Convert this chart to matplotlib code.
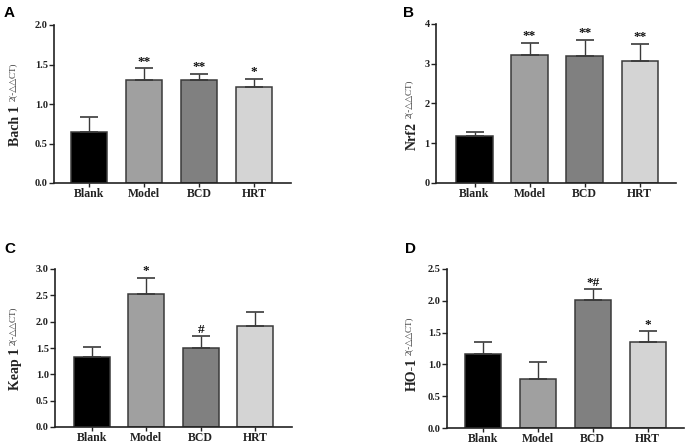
import matplotlib
matplotlib.use("Agg")
import matplotlib.pyplot as plt
from matplotlib.ticker import FormatStrFormatter, MultipleLocator

categories = ["Blank", "Model", "BCD", "HRT"]
colors = ["#000000", "#a0a0a0", "#808080", "#d4d4d4"]

a_vals = [0.65, 1.31, 1.30, 1.22]
a_err = [0.18, 0.14, 0.08, 0.10]
a_sig = ["", "**", "**", "*"]

b_vals = [1.17, 3.22, 3.20, 3.08]
b_err = [0.11, 0.31, 0.40, 0.42]
b_sig = ["", "**", "**", "**"]

c_vals = [1.33, 2.52, 1.50, 1.92]
c_err = [0.19, 0.31, 0.22, 0.27]
c_sig = ["", "*", "#", ""]

d_vals = [1.17, 0.77, 2.02, 1.36]
d_err = [0.18, 0.26, 0.16, 0.16]
d_sig = ["", "", "*#", "*"]

W, H = 687, 446
fig = plt.figure(figsize=(W / 100, H / 100), dpi=100)

serif = ["Liberation Serif", "DejaVu Serif"]
edge = "#3a3a3a"

panels = [
    ("A", a_vals, a_err, a_sig, "Bach 1", 2.0, 0.5, "%.1f", (54, 291, 25, 183), (-0.636, 3.67),
     (4, 17), (16, 105), (13, 101)),
    ("B", b_vals, b_err, b_sig, "Nrf2", 4.0, 1.0, "%d", (436, 676, 24, 183), (-0.70, 3.66),
     (403, 17), (412, 122), (409, 118)),
    ("C", c_vals, c_err, c_sig, "Keap 1", 3.0, 0.5, "%.1f", (55, 292, 269, 427), (-0.67, 3.67),
     (4, 253), (16, 348), (13, 345)),
    ("D", d_vals, d_err, d_sig, "HO-1", 2.5, 0.5, "%.1f", (447, 684, 269, 428), (-0.65, 3.66),
     (405, 253), (412, 358), (409, 355)),
]

for (letter, vals, err, sig, ylab, ymax, ystep, fmt, box, xlim,
     lpos, mpos, spos) in panels:
    l, r, t, b = box
    ax = fig.add_axes([l / W, 1 - b / H, (r - l) / W, (b - t) / H])
    x = list(range(len(categories)))
    ax.bar(x, vals, width=0.66, color=colors, edgecolor=edge, linewidth=1.1,
           yerr=[[0] * len(err), err], error_kw=dict(ecolor=edge, elinewidth=1.0,
                                                     capsize=6.5, capthick=1.2),
           zorder=2)
    for xi, v, e, s in zip(x, vals, err, sig):
        if s:
            ax.annotate(s, (xi, v + e), xytext=(0, 0.5), textcoords="offset points",
                        ha="center", va="bottom", fontsize=9.5, fontweight="bold",
                        family=serif, color="#111111")
    ax.set_xlim(*xlim)
    ax.set_ylim(0, ymax)
    ax.yaxis.set_major_locator(MultipleLocator(ystep))
    ax.yaxis.set_major_formatter(FormatStrFormatter(fmt))
    ax.set_xticks(x)
    ax.set_xticklabels(categories)
    for sp in ["top", "right"]:
        ax.spines[sp].set_visible(False)
    for sp in ["left", "bottom"]:
        ax.spines[sp].set_linewidth(1.2)
        ax.spines[sp].set_color("#222222")
    ax.tick_params(axis="both", direction="out", length=3.5, width=1.0, color="#222222")
    ax.tick_params(axis="y", pad=1)
    ax.tick_params(axis="x", pad=0.8, length=3)
    for lab in ax.get_yticklabels():
        lab.set_family(serif)
        lab.set_fontweight("bold")
        lab.set_fontsize(7.5)
        lab.set_color("#222222")
    for lab in ax.get_xticklabels():
        lab.set_family(serif)
        lab.set_fontweight("bold")
        lab.set_fontsize(8.5)
        lab.set_color("#222222")

    fig.text(lpos[0] / W, 1 - lpos[1] / H, letter, fontsize=11, fontweight="bold",
             family=["Liberation Sans", "DejaVu Sans"], ha="left", va="baseline")
    fig.text(mpos[0] / W, 1 - mpos[1] / H, ylab, rotation=90, rotation_mode="anchor",
             ha="right", va="center", fontsize=10, fontweight="bold", family=serif,
             color="#222222")
    fig.text(spos[0] / W, 1 - spos[1] / H, "2(-\u25b3\u25b3CT)", rotation=90,
             rotation_mode="anchor", ha="left", va="center", fontsize=6.5, family=serif,
             color="#333333")

fig.savefig("out.png", dpi=100)
